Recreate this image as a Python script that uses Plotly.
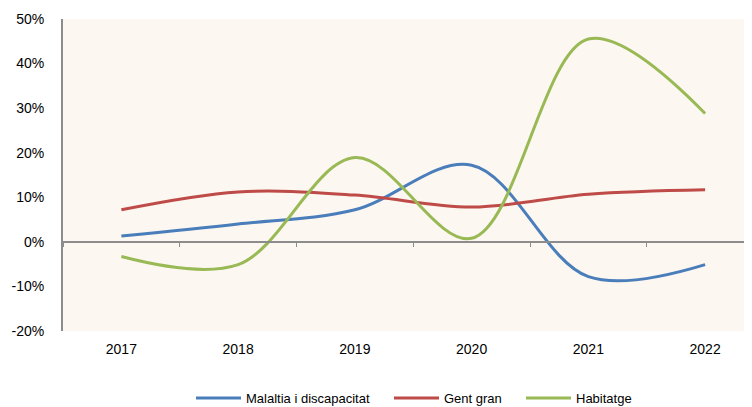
import plotly.graph_objects as go

years = ["2017", "2018", "2019", "2020", "2021", "2022"]
malaltia = [1.3, 4.0, 7.2, 17.2, -7.8, -5.1]
gent_gran = [7.2, 11.2, 10.5, 7.8, 10.7, 11.7]
habitatge = [-3.3, -5.1, 18.9, 0.8, 45.5, 28.8]

y_tickvals = [-0.2, -0.1, 0.0, 0.1, 0.2, 0.3, 0.4, 0.5]
y_ticktext = ["-20%", "-10%", "0%", "10%", "20%", "30%", "40%", "50%"]

series = [
    ("Malaltia i discapacitat", malaltia, "#4A7EBB", "legend"),
    ("Gent gran", gent_gran, "#BE4B48", "legend2"),
    ("Habitatge", habitatge, "#98B954", "legend3"),
]

fig = go.Figure()
for name, vals, col, leg in series:
    fig.add_trace(go.Scatter(
        x=years, y=[v / 100 for v in vals], name=name, mode="lines",
        line=dict(color=col, width=3, shape="spline", smoothing=1.0),
        legend=leg,
    ))

# invisible trace to carry the axis drawn at zero
fig.add_trace(go.Scatter(x=years, y=[0] * len(years), xaxis="x2", yaxis="y",
                         mode="lines", line=dict(width=0), showlegend=False,
                         hoverinfo="skip"))

PW = 681.0
XMAX = 5.333

def leg(xpx):
    return dict(orientation="h", x=(xpx - 63) / PW, xanchor="left",
                y=-0.215, yanchor="middle", font=dict(size=13), itemwidth=45,
                bgcolor="rgba(0,0,0,0)", borderwidth=0)

fig.update_layout(
    width=736, height=407,
    margin=dict(l=55, r=0, t=11, b=84, autoexpand=False),
    paper_bgcolor="white",
    plot_bgcolor="#FCF7F1",
    font=dict(family="Liberation Sans, Arial", color="black"),
    showlegend=True,
    legend=leg(191),
    legend2=leg(389),
    legend3=leg(521),
    xaxis=dict(type="category", range=[-0.5, XMAX], showgrid=False, showline=False,
               ticks="", tickfont=dict(size=14), ticklabelstandoff=8,
               zeroline=False, automargin=False),
    xaxis2=dict(type="category", range=[-0.5, XMAX], overlaying="x", anchor="free",
                position=20 / 70, showgrid=False, showline=True, linecolor="#8C8C8C",
                linewidth=2, ticks="outside", tickson="boundaries", ticklen=4,
                tickcolor="#8C8C8C", showticklabels=False, side="bottom",
                automargin=False),
    yaxis=dict(range=[-0.2, 0.5], tickvals=y_tickvals, ticktext=y_ticktext,
               showgrid=False, showline=True, linecolor="#8C8C8C", linewidth=2,
               ticks="", tickfont=dict(size=14), ticklabelstandoff=14,
               zeroline=False, automargin=False),
)

fig.write_html("out.html")
